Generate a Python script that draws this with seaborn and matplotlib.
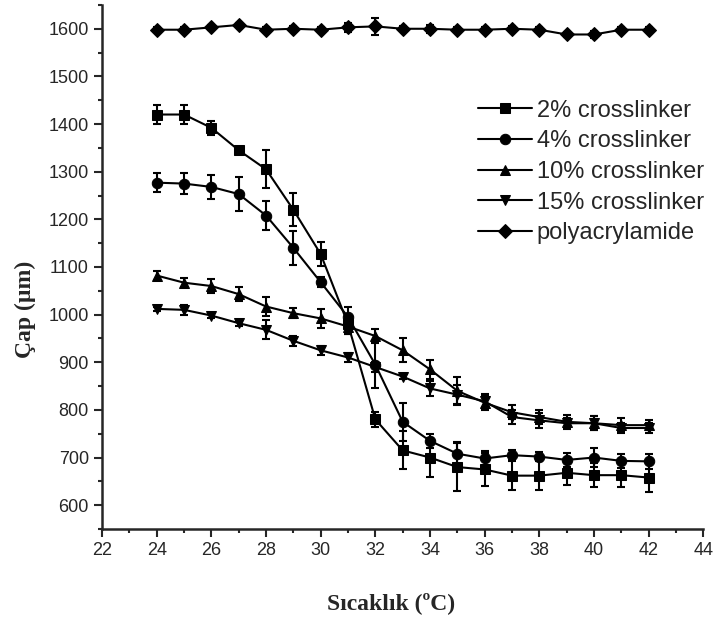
import numpy as np
import pandas as pd
import matplotlib
matplotlib.use("Agg")
import matplotlib.pyplot as plt
from matplotlib.ticker import MultipleLocator
import seaborn as sns

# temperature (°C)
temps = [24, 25, 26, 27, 28, 29, 30, 31, 32, 33, 34, 35, 36, 37, 38, 39, 40, 41, 42]

series_names = ["2% crosslinker", "4% crosslinker", "10% crosslinker",
                "15% crosslinker", "polyacrylamide"]

# diameter (µm)
cl2 = [1420, 1420, 1392, 1345, 1305, 1220, 1127, 980, 780, 715, 700, 680, 675, 662, 662, 668, 663, 663, 658]
cl4 = [1277, 1275, 1268, 1253, 1208, 1140, 1068, 995, 895, 775, 735, 708, 698, 705, 702, 695, 700, 693, 692]
cl10 = [1082, 1067, 1060, 1043, 1017, 1003, 992, 975, 955, 925, 885, 840, 815, 795, 785, 775, 772, 768, 768]
cl15 = [1012, 1010, 998, 982, 968, 945, 925, 910, 890, 870, 845, 832, 818, 785, 778, 772, 772, 762, 762]
pam = [1598, 1598, 1603, 1608, 1598, 1600, 1598, 1603, 1605, 1600, 1600, 1598, 1598, 1600, 1598, 1588, 1588, 1598, 1598]

# error bars (µm)
cl2_err = [20, 20, 15, 5, 40, 35, 25, 20, 15, 40, 40, 50, 35, 30, 30, 25, 25, 25, 30]
cl4_err = [20, 22, 25, 35, 30, 35, 10, 20, 50, 40, 15, 25, 15, 10, 10, 15, 20, 15, 15]
cl10_err = [10, 10, 15, 15, 20, 10, 20, 15, 15, 25, 20, 30, 15, 15, 15, 15, 15, 15, 10]
cl15_err = [5, 10, 5, 5, 20, 10, 10, 10, 10, 5, 15, 20, 15, 15, 15, 10, 15, 10, 10]
pam_err = [5, 5, 5, 5, 5, 5, 5, 10, 18, 5, 8, 5, 5, 5, 5, 5, 8, 5, 5]

values = [cl2, cl4, cl10, cl15, pam]
errors = [cl2_err, cl4_err, cl10_err, cl15_err, pam_err]
marker_map = dict(zip(series_names, ["s", "o", "^", "v", "D"]))

rows = []
for name, vals, errs in zip(series_names, values, errors):
    for t, v, e in zip(temps, vals, errs):
        rows.append({"temp": t, "diam": v, "err": e, "series": name})
df = pd.DataFrame(rows)

sns.set_style("ticks")
plt.rcParams["font.family"] = ["Liberation Sans", "DejaVu Sans"]

fig = plt.figure(figsize=(7.14, 6.18), dpi=100)
ax = fig.add_axes([0.143, 0.144, 0.842, 0.848])

# error bars first, then the lines and markers on top
for name in series_names:
    sub = df[df["series"] == name]
    ax.errorbar(sub["temp"], sub["diam"], yerr=sub["err"], fmt="none",
                ecolor="black", elinewidth=1.5, capsize=3, capthick=1.5, zorder=2)

sns.lineplot(data=df, x="temp", y="diam", hue="series", style="series",
             markers=marker_map, dashes=False,
             palette={n: "black" for n in series_names},
             linewidth=1.5, markersize=7.5, markeredgecolor="black",
             ax=ax, zorder=3)

ax.set_xlim(22, 44)
ax.set_ylim(550, 1650)
ax.xaxis.set_major_locator(MultipleLocator(2))
ax.xaxis.set_minor_locator(MultipleLocator(1))
ax.yaxis.set_major_locator(MultipleLocator(100))
ax.yaxis.set_minor_locator(MultipleLocator(50))
ax.tick_params(which="major", length=6, width=1.5, labelsize=13, direction="out")
ax.tick_params(which="minor", length=3, width=1.5, direction="out")

for side in ["top", "right"]:
    ax.spines[side].set_visible(False)
for side in ["left", "bottom"]:
    ax.spines[side].set_linewidth(1.8)

ax.set_xlabel("Sıcaklık (ºC)", fontsize=17, fontweight="bold",
              family=["Liberation Serif", "DejaVu Serif"])
ax.set_ylabel("Çap (µm)", fontsize=17, fontweight="bold",
              family=["Liberation Serif", "DejaVu Serif"])
ax.xaxis.set_label_coords(0.48, -0.12)
ax.yaxis.set_label_coords(-0.11, 0.42)

handles, labels = ax.get_legend_handles_labels()
ax.legend(handles, labels, loc="upper left", bbox_to_anchor=(0.605, 0.842),
          frameon=False, fontsize=17, handlelength=2.3, handletextpad=0.2,
          labelspacing=0.37, borderpad=0)

fig.savefig("out.png", dpi=100)
plt.close(fig)
